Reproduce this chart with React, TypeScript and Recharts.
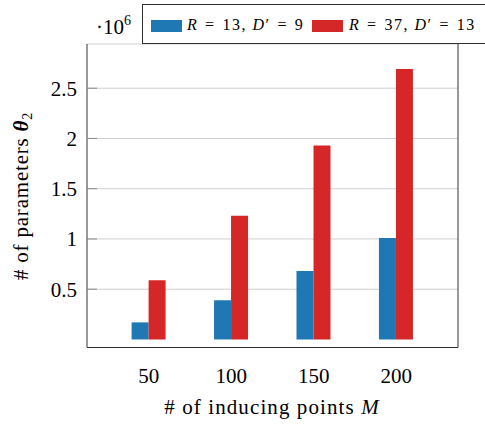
import React from 'react';
import { BarChart, Bar, XAxis, YAxis, CartesianGrid, Customized } from 'recharts';

const categories = ['50', '100', '150', '200'];
const seriesSmall = [0.17, 0.39, 0.68, 1.01];
const seriesLarge = [0.59, 1.23, 1.93, 2.69];
const yTicks = [0.5, 1, 1.5, 2, 2.5];
const legendSmall = { R: '13', D: '9' };
const legendLarge = { R: '37', D: '13' };

const data = categories.map((c, i) => ({ m: c, small: seriesSmall[i], large: seriesLarge[i] }));

const FONT = "'Liberation Serif', 'Times New Roman', serif";
const BLUE = '#1f77b4';
const RED = '#d62728';
const FRAME = '#333333';
const EQ = '\u2004=\u2004';

const Overlay = () => (
  <g style={{ fontFamily: FONT }}>
    <text x={96} y={34} fontSize={21} fill="#000" style={{ fontFamily: FONT }}>
      ·10<tspan fontSize={14} dy={-9}>6</tspan>
    </text>
    <rect x={142.5} y={4.5} width={360} height={39} fill="#fff" stroke={FRAME} strokeWidth={1} />
    <rect x={151} y={20} width={31} height={12} fill={BLUE} />
    <text x={187} y={30} fontSize={16} fill="#000" letterSpacing={1.5} style={{ fontFamily: FONT }}>
      <tspan fontStyle="italic">R</tspan>{EQ}{legendSmall.R}, <tspan fontStyle="italic">D</tspan>′{EQ}{legendSmall.D}
    </text>
    <rect x={312} y={20} width={31} height={12} fill={RED} />
    <text x={349} y={30} fontSize={16} fill="#000" letterSpacing={1.5} style={{ fontFamily: FONT }}>
      <tspan fontStyle="italic">R</tspan>{EQ}{legendLarge.R}, <tspan fontStyle="italic">D</tspan>′{EQ}{legendLarge.D}
    </text>
    <text
      transform="translate(28,196) rotate(-90)"
      textAnchor="middle"
      fontSize={21}
      fill="#000"
      letterSpacing={0.8}
      style={{ fontFamily: FONT }}
    >
      # of parameters <tspan fontWeight="bold" fontStyle="italic">θ</tspan>
      <tspan fontSize={14} dy={4}>2</tspan>
    </text>
    <text x={272} y={414} textAnchor="middle" fontSize={21} fill="#000" letterSpacing={1.1} style={{ fontFamily: FONT }}>
      # of inducing points <tspan fontStyle="italic">M</tspan>
    </text>
  </g>
);

export default function App() {
  return (
    <div style={{ position: 'absolute', left: 0, top: 0, width: 485, height: 427, overflow: 'hidden', background: '#fff', fontFamily: FONT }}>
      <BarChart
        width={485}
        height={427}
        data={data}
        margin={{ top: 44, right: 0, bottom: 0, left: 0 }}
        barGap={0}
        style={{ fontFamily: FONT }}
      >
        <CartesianGrid horizontal vertical={false} stroke="#cfcfcf" strokeWidth={1} yAxisId="left" />
        <XAxis
          dataKey="m"
          xAxisId="bottom"
          height={79.5}
          padding={{ left: 20.6, right: 20.6 }}
          tickLine={false}
          tickSize={8}
          tickMargin={12.6}
          axisLine={{ stroke: FRAME, strokeWidth: 1 }}
          tick={{ fontSize: 21, fill: '#000', fontFamily: FONT }}
        />
        <XAxis
          dataKey="m"
          xAxisId="top"
          orientation="top"
          height={0}
          padding={{ left: 20.6, right: 20.6 }}
          tick={false}
          tickLine={false}
          axisLine={{ stroke: FRAME, strokeWidth: 1 }}
        />
        <YAxis
          yAxisId="left"
          width={87}
          type="number"
          domain={[-0.08, 2.94]}
          ticks={yTicks}
          tickSize={-10}
          tickMargin={20}
          axisLine={{ stroke: FRAME, strokeWidth: 1 }}
          tickLine={{ stroke: '#8a8a8a', strokeWidth: 1 }}
          tick={{ fontSize: 21, fill: '#000', fontFamily: FONT }}
        />
        <YAxis
          yAxisId="right"
          orientation="right"
          width={27}
          type="number"
          domain={[-0.08, 2.94]}
          ticks={yTicks}
          tickSize={-10}
          tick={false}
          axisLine={{ stroke: FRAME, strokeWidth: 1 }}
          tickLine={{ stroke: '#8a8a8a', strokeWidth: 1 }}
        />
        <Bar dataKey="small" xAxisId="bottom" yAxisId="left" fill={BLUE} barSize={17} isAnimationActive={false} />
        <Bar dataKey="large" xAxisId="bottom" yAxisId="left" fill={RED} barSize={17} isAnimationActive={false} />
        <Customized component={Overlay} />
      </BarChart>
    </div>
  );
}
